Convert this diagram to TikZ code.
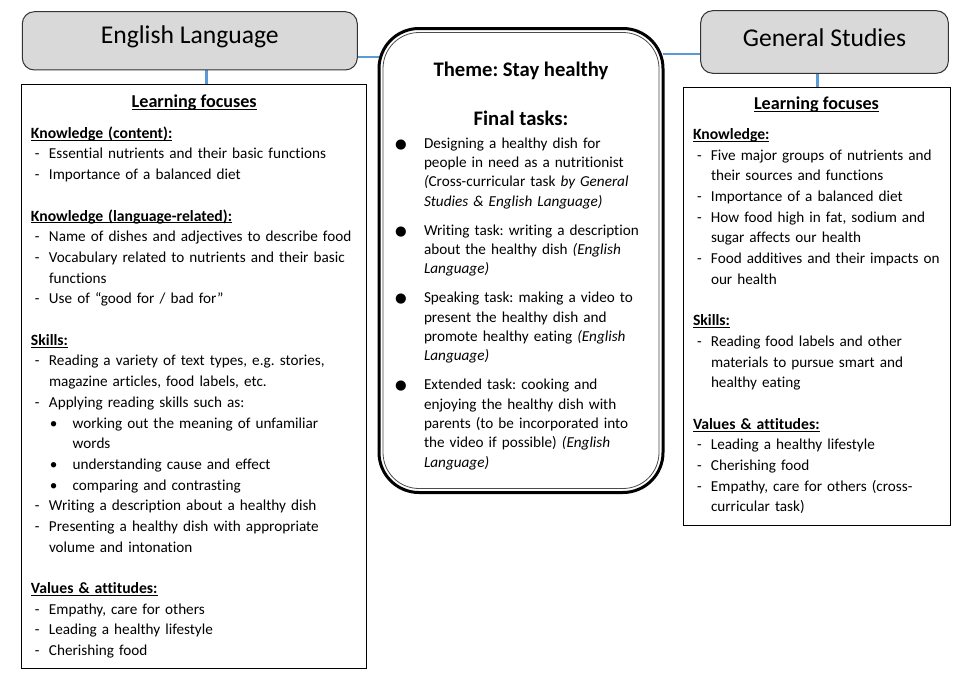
\documentclass[tikz,border=0pt]{standalone}
\usepackage{fontspec}
\setmainfont{Carlito}[Ligatures=NoCommon]
\newfontfamily\dejavu{DejaVu Sans}
\usetikzlibrary{backgrounds}
\definecolor{connblue}{HTML}{5B9BD5}
\definecolor{hdrgray}{HTML}{D9D9D9}
\frenchspacing
\newcommand\ulhead[1]{\leavevmode\setbox0\hbox{\fontsize{11.75}{14}\selectfont\textbf{#1}}\rlap{\rule[-1.6pt]{\wd0}{0.6pt}}\box0}
\newcommand\bighead[1]{\leavevmode\setbox0\hbox{\fontsize{13.6}{16}\selectfont\textbf{#1}}\rlap{\rule[-1.8pt]{\wd0}{0.65pt}}\box0}
\newcommand\dashitem[1]{\leavevmode\hspace*{3pt}\makebox[10.5pt][l]{-}#1}
\newcommand\contline[1]{\leavevmode\hspace*{13.5pt}#1}
\newcommand\subbul[1]{\leavevmode\hspace*{14.25pt}\makebox[17pt][l]{\textbullet}#1}
\newcommand\subcont[1]{\leavevmode\hspace*{31.25pt}#1}
\newcommand\bigbul{\leavevmode\llap{\makebox[21.75pt][l]{{\dejavu\fontsize{10}{10}\selectfont ●}}}}
\begin{document}
\begin{tikzpicture}[x=0.75pt,y=-0.75pt,
  conn/.style={draw=connblue,line width=2pt},
  titlebox/.style={draw=black!80,fill=hdrgray,rounded corners=9pt,line width=0.75pt,
    outer sep=0pt,inner sep=0pt,font=\fontsize{19.2}{23}\selectfont,text depth=0pt},
  listbox/.style={draw=black,line width=0.75pt,outer sep=0pt,inner sep=0pt},
  themebox/.style={draw=black,fill=white,line width=2.25pt,rounded corners=30pt,outer sep=0pt,inner sep=0pt},
  bodytext/.style={inner sep=0pt,outer sep=0pt,align=left,anchor=base west,
    font=\fontsize{11.4}{15.52}\selectfont},
  centertext/.style={inner sep=0pt,outer sep=0pt,align=left,anchor=base west,
    font=\fontsize{11.4}{14.48}\selectfont},
  headtext/.style={inner sep=0pt,outer sep=0pt,anchor=base},
  themetext/.style={inner sep=0pt,outer sep=0pt,anchor=base,font=\fontsize{15.5}{18}\selectfont\bfseries}
]
\useasboundingbox (0,0) rectangle (972,678);

% boxes
\node[titlebox,minimum width=251.25pt,minimum height=43.7pt,text height=4.7pt] (EL) at (189.8,40.85) {English Language};
\node[listbox,minimum width=258.75pt,minimum height=437.8pt] (LB) at (194.2,376.15) {};
\node[themebox,minimum width=213pt,minimum height=348pt] (CT) at (521,260.5) {};
\draw[line width=0.6pt,draw=black!70,rounded corners=27pt]
  ([shift={(4,-4)}]CT.south west) rectangle ([shift={(-4,4)}]CT.north east);
\node[titlebox,minimum width=185.7pt,minimum height=46.95pt,text height=7pt] (GS) at (824.5,42) {General Studies};
\node[listbox,minimum width=200.55pt,minimum height=328.3pt] (RB) at (817,306.15) {};

% connectors
\coordinate (cEL) at (206.7,0);
\coordinate (cGS) at (817.3,0);
\coordinate (hL) at (0,57);
\coordinate (hR) at (0,54);
\begin{pgfonlayer}{background}
\draw[conn] (EL.south -| cEL) -- (LB.north -| cEL);
\draw[conn] (GS.south -| cGS) -- (RB.north -| cGS);
\draw[conn] (EL.east |- hL) -- (CT.west |- hL);
\draw[conn] (CT.east |- hR) -- (GS.west |- hR);
\end{pgfonlayer}

% left box text
\node[headtext] (LBh) at (194.2,107.3) {\bighead{Learning focuses}};
\node[bodytext,text width=260pt] (LBt) at (31,138.3) {%
\ulhead{Knowledge (content):}\\
\dashitem{Essential nutrients and their basic functions}\\
\dashitem{Importance of a balanced diet}\\[15.52pt]
\ulhead{Knowledge (language-related):}\\
\dashitem{Name of dishes and adjectives to describe food}\\
\dashitem{Vocabulary related to nutrients and their basic}\\
\contline{functions}\\
\dashitem{Use of “good for / bad for”}\\[15.52pt]
\ulhead{Skills:}\\
\dashitem{Reading a variety of text types, e.g. stories,}\\
\contline{magazine articles, food labels, etc.}\\
\dashitem{Applying reading skills such as:}\\
\subbul{working out the meaning of unfamiliar}\\
\subcont{words}\\
\subbul{understanding cause and effect}\\
\subbul{comparing and contrasting}\\
\dashitem{Writing a description about a healthy dish}\\
\dashitem{Presenting a healthy dish with appropriate}\\
\contline{volume and intonation}\\[15.52pt]
\ulhead{Values \& attitudes:}\\
\dashitem{Empathy, care for others}\\
\dashitem{Leading a healthy lifestyle}\\
\dashitem{Cherishing food}};

% centre box text
\node[themetext] (CTh) at (521,76.7) {Theme: Stay healthy};
\node[themetext] (CTf) at (521,125) {Final tasks:};
\node[centertext,text width=190pt] (CTt) at (424,148.3) {%
\bigbul Designing a healthy dish for\\
people in need as a nutritionist\\
\textit{(}Cross-curricular task \textit{by General}\\
\textit{Studies \& English Language)}\\[7.3pt]
\bigbul Writing task: writing a description\\
about the healthy dish \textit{(English}\\
\textit{Language)}\\[7.3pt]
\bigbul Speaking task: making a video to\\
present the healthy dish and\\
promote healthy eating \textit{(English}\\
\textit{Language)}\\[7.3pt]
\bigbul Extended task: cooking and\\
enjoying the healthy dish with\\
parents (to be incorporated into\\
the video if possible) \textit{(English}\\
\textit{Language)}};

% right box text
\node[headtext] (RBh) at (816.5,109.3) {\bighead{Learning focuses}};
\node[bodytext,text width=210pt] (RBt) at (693,139.5) {%
\ulhead{Knowledge:}\\
\dashitem{Five major groups of nutrients and}\\
\contline{their sources and functions}\\
\dashitem{Importance of a balanced diet}\\
\dashitem{How food high in fat, sodium and}\\
\contline{sugar affects our health}\\
\dashitem{Food additives and their impacts on}\\
\contline{our health}\\[15.52pt]
\ulhead{Skills:}\\
\dashitem{Reading food labels and other}\\
\contline{materials to pursue smart and}\\
\contline{healthy eating}\\[15.52pt]
\ulhead{Values \& attitudes:}\\
\dashitem{Leading a healthy lifestyle}\\
\dashitem{Cherishing food}\\
\dashitem{Empathy, care for others (cross-}\\
\contline{curricular task)}};
\end{tikzpicture}
\end{document}
